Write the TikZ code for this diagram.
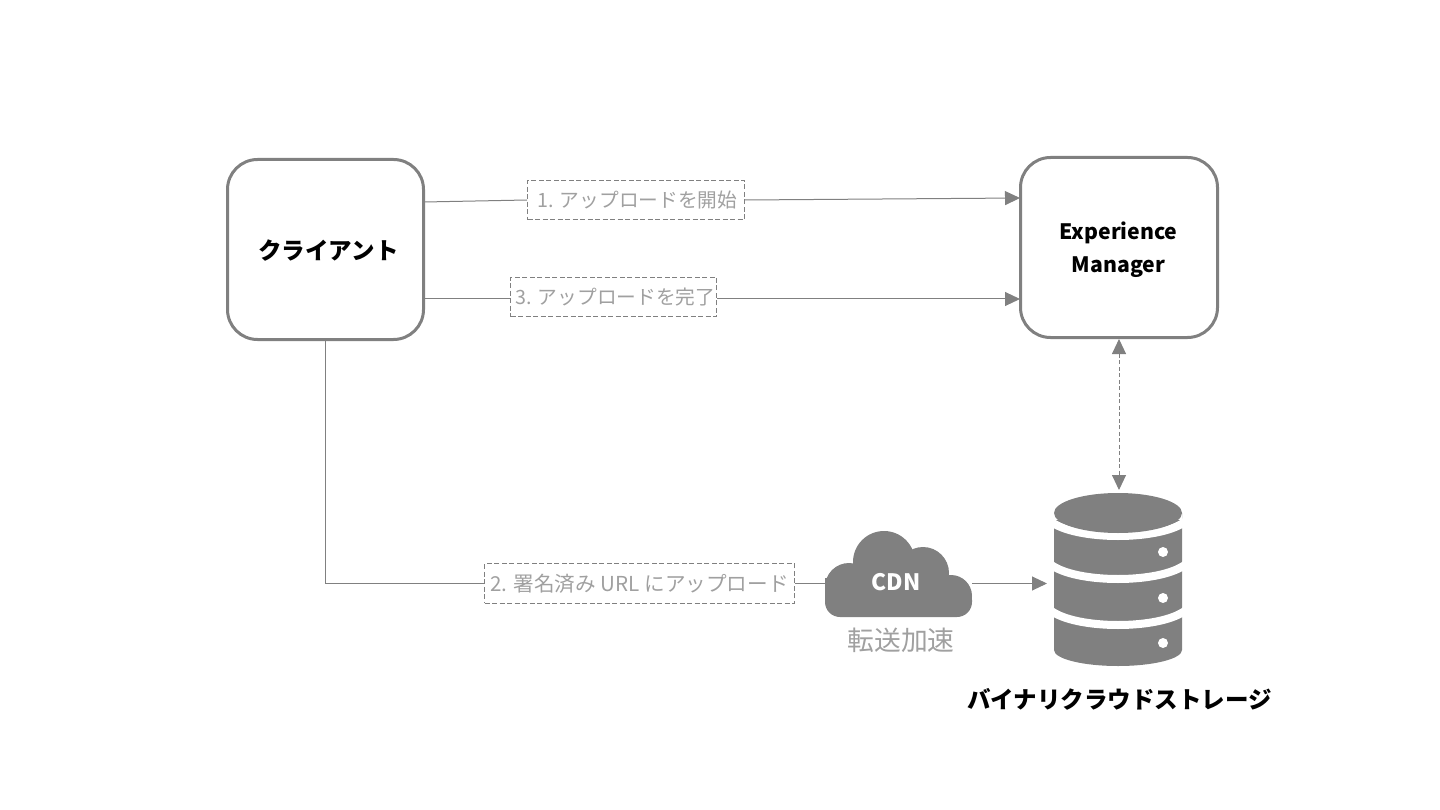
\documentclass[tikz,border=0pt]{standalone}
\usepackage{fontspec}
\setmainfont{Noto Sans CJK JP}
\usetikzlibrary{arrows.meta}
\definecolor{shapegray}{HTML}{808080}
\definecolor{labelgray}{HTML}{A0A0A0}
\tikzset{
	actorbox/.style={draw=shapegray, line width=3pt, rounded corners=30pt, anchor=north west},
	stepbox/.style={draw=shapegray, line width=1pt, dash pattern=on 5pt off 2.5pt, text=labelgray, font=\fontsize{19.7}{25}\selectfont, inner sep=0pt, minimum height=39.5pt},
	flow/.style={draw=shapegray, line width=1pt},
	tip/.style={-{Triangle[length=15pt,width=14pt,fill=shapegray]}},
	boldtext/.style={font=\fontsize{23.5}{33}\selectfont\bfseries, align=center}
}
\begin{document}
\begin{tikzpicture}[x=1pt, y=-1pt]
	\useasboundingbox (0,0) rectangle (1440,810);

	% the two main boxes
	\node[actorbox, minimum width=196pt, minimum height=180pt] (client) at (226,158) {};
	\node[actorbox, minimum width=197pt, minimum height=180pt] (manager) at (1019,156) {};
	\node[boldtext] (clientlabel) at (328.5,251) {クライアント};
	\node[boldtext, font=\fontsize{21.2}{33}\selectfont\bfseries] (managerlabel) at (1118.5,250) {Experience\\Manager};

	% step labels
	\node[stepbox, minimum width=217pt] (stepone) at (636,200) {\hspace*{3pt}1. アップロードを開始};
	\node[stepbox, minimum width=206pt] (stepthree) at (613.5,297) {\hspace*{4pt}3. アップロードを完了};
	\node[stepbox, minimum width=310pt, font=\fontsize{20.6}{25}\selectfont] (steptwo) at (639.5,583.5) {2. 署名済み URL にアップロード};

	% cloud
	\foreach \cx/\cy/\r in {849/587/24, 884/562/31, 923/573/26, 951/596/21}{
		\fill[shapegray] (\cx,\cy) circle (\r);
	}
	\fill[shapegray] (825,578) rectangle (860,602);
	\fill[shapegray, rounded corners=15pt] (825,585) rectangle (972,617);
	\node[text=white, font=\fontsize{22.6}{28}\selectfont\bfseries] (cdn) at (896,582) {CDN};
	\node[text=labelgray, font=\fontsize{26.8}{30}\selectfont] (accel) at (901,640) {転送加速};

	% storage
	\fill[shapegray] (1054,513) -- (1182,513)
		-- (1182,650) arc[start angle=0, end angle=180, x radius=64, y radius=16] -- cycle;
	\foreach \y in {521,564,610}{
		\draw[white, line width=8pt] (1050,\y) .. controls (1075,\y+20) and (1161,\y+20) .. (1186,\y);
	}
	\fill[white] (1054,513) rectangle (1182,520);
	\fill[shapegray] (1118,513) ellipse (64 and 20);
	\foreach \y in {552,598,643}{
		\fill[white] (1163,\y) circle (5);
	}
	\node[boldtext] (storage) at (1119.5,699) {バイナリクラウドストレージ};
	\coordinate (storagetop) at (1119,490);
	\coordinate (storageleft) at (1047,583.5);

	% end points on the boxes
	\coordinate (startone) at (424,202);
	\coordinate (endone) at (1020,198);
	\coordinate (startthree) at (424,299);
	\coordinate (endthree) at (1020,299);
	\coordinate (cloudleft) at (825,583.5);
	\coordinate (cloudright) at (972,583.5);

	% connectors
	\draw[flow] (startone) -- (stepone.west);
	\draw[flow, tip] (stepone.east) -- (endone);
	\draw[flow] (startthree) -- (startthree -| stepthree.west);
	\draw[flow, tip] (endthree -| stepthree.east) -- (endthree);
	\draw[flow] (client.south) |- (steptwo.west);
	\draw[flow] (steptwo.east) -- (cloudleft);
	\draw[flow, tip] (cloudright) -- (storageleft);
	\draw[flow, dash pattern=on 4pt off 2.5pt, {Triangle[length=15pt,width=14pt,fill=shapegray]}-{Triangle[length=15pt,width=14pt,fill=shapegray]}] (manager.south) -- (storagetop);
\end{tikzpicture}
\end{document}
